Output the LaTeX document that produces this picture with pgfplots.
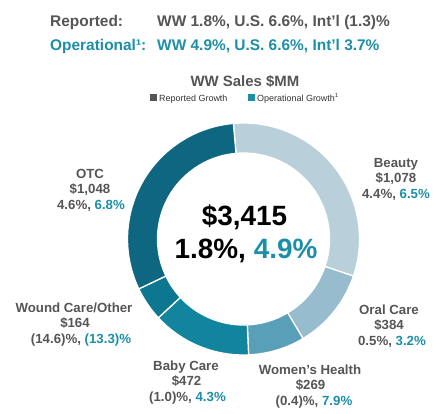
\documentclass[border=0pt]{standalone}
\usepackage{pgfplots}
\pgfplotsset{compat=1.18}
\usepackage{pgfplotstable}
\usepackage{fontspec}
\setmainfont{Liberation Sans}
\definecolor{gtxt}{HTML}{555555}
\definecolor{ttxt}{HTML}{1C8FA8}
\definecolor{cBeauty}{HTML}{B9CFD9}
\definecolor{cOral}{HTML}{96BCCD}
\definecolor{cWomen}{HTML}{5A9FB8}
\definecolor{cBaby}{HTML}{12849E}
\definecolor{cWound}{HTML}{0D7690}
\definecolor{cOTC}{HTML}{0E6680}
\pgfplotstableread{
value col
1078 cBeauty
384 cOral
269 cWomen
472 cBaby
164 cWound
1048 cOTC
}\segdata
\newcommand{\lf}{\fontsize{13.3}{16}\selectfont\bfseries}
% label: x1 x2 x3 baseline name value rep op
\newcommand{\lab}[8]{%
  \node[anchor=base,text=gtxt,font=\lf,inner sep=0pt] at (axis cs:#1,{413-#4}) {#5};
  \node[anchor=base,text=gtxt,font=\lf,inner sep=0pt] at (axis cs:#2,{413-#4-15.8}) {#6};
  \node[anchor=base,text=gtxt,font=\lf,inner sep=0pt] at (axis cs:#3,{413-#4-31.6}) {#7, \textcolor{ttxt}{#8}};
}
\begin{document}
\begin{tikzpicture}
\begin{axis}[x=1bp,y=1bp,xmin=0,xmax=444,ymin=0,ymax=413,hide axis,clip=false]
\path (axis cs:0,0) rectangle (axis cs:444,413);
\pgfmathsetmacro{\cum}{0}
\pgfplotsforeachungrouped \i in {0,...,5}{%
  \pgfplotstablegetelem{\i}{value}\of\segdata \let\v\pgfplotsretval
  \pgfplotstablegetelem{\i}{col}\of\segdata \let\c\pgfplotsretval
  \pgfmathsetmacro{\a}{95-\cum/3415*360}%
  \pgfmathsetmacro{\b}{95-(\cum+\v)/3415*360}%
  \edef\temp{\noexpand\fill[\c, draw=white, line width=1.3bp] (axis cs:{243.5+116*cos(\a)},{174+116*sin(\a)}) arc[start angle=\a, end angle=\b, radius=116] -- (axis cs:{243.5+86*cos(\b)},{174+86*sin(\b)}) arc[start angle=\b, end angle=\a, radius=86] -- cycle;}%
  \temp
  \pgfmathsetmacro{\cum}{\cum+\v}%
}
% header
\node[anchor=base west,inner sep=0pt,text=gtxt,font=\fontsize{15.5}{18}\selectfont\bfseries] at (axis cs:50,{413-26.5}) {Reported:};
\node[anchor=base west,inner sep=0pt,text=gtxt,font=\fontsize{15.5}{18}\selectfont\bfseries] at (axis cs:157,{413-26.5}) {WW 1.8\%, U.S. 6.6\%, Int’l (1.3)\%};
\node[anchor=base west,inner sep=0pt,text=ttxt,font=\fontsize{15.5}{18}\selectfont\bfseries] at (axis cs:50,{413-50}) {Operational¹:};
\node[anchor=base west,inner sep=0pt,text=ttxt,font=\fontsize{15.5}{18}\selectfont\bfseries] at (axis cs:157,{413-50}) {WW 4.9\%, U.S. 6.6\%, Int’l 3.7\%};
\node[anchor=base,inner sep=0pt,text=gtxt,font=\fontsize{15}{18}\selectfont\bfseries] at (axis cs:245,{413-86}) {WW Sales \$MM};
% legend
\fill[gtxt] (axis cs:150,{413-94}) rectangle (axis cs:156.5,{413-100.5});
\node[anchor=base west,inner sep=0pt,text=black!80,font=\fontsize{9}{10}\selectfont] at (axis cs:159,{413-101}) {Reported Growth};
\fill[ttxt] (axis cs:248,{413-94}) rectangle (axis cs:254.5,{413-100.5});
\node[anchor=base west,inner sep=0pt,text=black!80,font=\fontsize{9}{10}\selectfont] at (axis cs:257,{413-101}) {Operational Growth\textsuperscript{\fontsize{6}{6}\selectfont 1}};
% center
\node[anchor=base,inner sep=0pt,font=\fontsize{28}{30}\selectfont\bfseries] at (axis cs:244.5,{413-225}) {\$3,415};
\node[anchor=base,inner sep=0pt,font=\fontsize{28}{30}\selectfont\bfseries] at (axis cs:246,{413-258}) {1.8\%, \textcolor{ttxt}{4.9\%}};
% labels
\lab{396}{396}{396}{167}{Beauty}{\$1,078}{4.4\%}{6.5\%}
\lab{90}{90}{91}{178}{OTC}{\$1,048}{4.6\%}{6.8\%}
\lab{74}{75}{81}{312}{Wound Care/Other}{\$164}{(14.6)\%}{(13.3)\%}
\lab{389}{389}{392}{314}{Oral Care}{\$384}{0.5\%}{3.2\%}
\lab{186}{186.5}{187.5}{370}{Baby Care}{\$472}{(1.0)\%}{4.3\%}
\lab{310}{310.5}{314}{374}{Women's Health}{\$269}{(0.4)\%}{7.9\%}
\end{axis}
\end{tikzpicture}
\end{document}
